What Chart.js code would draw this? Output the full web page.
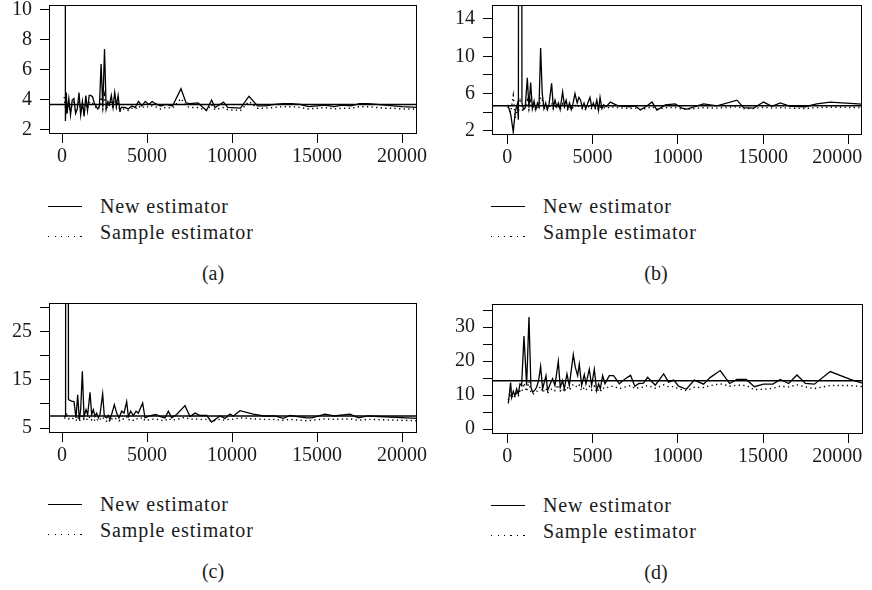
<!DOCTYPE html>
<html>
<head>
<meta charset="utf-8">
<title>Estimator comparison</title>
<script src="https://cdn.jsdelivr.net/npm/chart.js@4.4.1/dist/chart.umd.min.js"></script>
<style>
  html, body { margin: 0; padding: 0; background: #fff; }
  body {
    width: 872px; height: 590px; position: relative; overflow: hidden;
    font-family: 'Liberation Serif', serif; color: #1a1a1a;
  }
  .panel { position: absolute; height: 295px; }
  .panel canvas { position: absolute; left: 0; top: 0; }
  .legend-row {
    position: absolute; left: 48px; height: 24px; line-height: 24px;
    font-size: 20px; letter-spacing: 0.9px; white-space: nowrap;
  }
  .swatch { position: absolute; left: 0; width: 34px; height: 1px; }
  .swatch.solid { top: 12px; background: #000; }
  .swatch.dotted {
    top: 16px;
    background: repeating-linear-gradient(to right, #000 0 1.3px, transparent 1.3px 6.5px);
  }
  .legend-row .text { position: absolute; left: 52px; top: 0; }
  .caption { position: absolute; left: 0; width: 426px; top: 262px; text-align: center; font-size: 20px; }
</style>
</head>
<body>

<div class="panel" style="left:0;top:0;width:436px">
  <canvas id="chart-a" width="436" height="170"></canvas>
  <div class="legend" id="legend-a"></div>
  <div class="caption">(a)</div>
</div>
<div class="panel" style="left:443px;top:0;width:429px">
  <canvas id="chart-b" width="429" height="170"></canvas>
  <div class="legend" id="legend-b"></div>
  <div class="caption">(b)</div>
</div>
<div class="panel" style="left:0;top:298px;width:436px">
  <canvas id="chart-c" width="436" height="170"></canvas>
  <div class="legend" id="legend-c"></div>
  <div class="caption">(c)</div>
</div>
<div class="panel" style="left:443px;top:299px;width:429px">
  <canvas id="chart-d" width="429" height="170"></canvas>
  <div class="legend" id="legend-d"></div>
  <div class="caption">(d)</div>
</div>

<script>
// series names and shared x ticks
const seriesLabels = ['New estimator', 'Sample estimator'];
const xTicks = [0, 5000, 10000, 15000, 20000];

// panel (a)
const xA = [130, 200, 250, 300, 400, 500, 600, 700, 800, 900, 1000, 1100, 1200, 1300, 1400, 1500, 1600, 1700, 1800, 1900,
  2000, 2100, 2200, 2300, 2400, 2500, 2600, 2700, 2800, 2900, 3000, 3100, 3200, 3300, 3400, 3500, 3700, 3900, 4100, 4300,
  4500, 4700, 4900, 5100, 5300, 5500, 5800, 6100, 6500, 7000, 7300, 7500, 8000, 8500, 8800, 9000, 9500, 9750, 10500, 11000,
  11500, 12000, 12500, 13000, 13500, 14000, 14500, 15000, 15500, 16000, 16500, 17000, 17500, 18000, 18500, 19000, 19500, 20000, 21000];
const newA = [150, 2.6, 4.5, 3.1, 4.1, 3.0, 4.0, 4.1, 3.1, 3.4, 4.5, 3.0, 3.9, 2.9, 4.3, 3.3, 4.3, 4.3, 4.2, 3.8,
  3.6, 3.4, 3.6, 6.4, 3.5, 7.4, 3.4, 3.9, 3.7, 4.3, 3.5, 4.5, 3.6, 4.3, 3.3, 3.5, 3.5, 3.4, 3.6, 3.5,
  3.9, 3.6, 3.9, 3.7, 3.9, 3.75, 3.6, 3.7, 3.6, 4.75, 3.8, 3.75, 3.8, 3.3, 4.0, 3.5, 3.85, 3.5, 3.45, 4.25,
  3.6, 3.6, 3.7, 3.75, 3.75, 3.7, 3.55, 3.6, 3.65, 3.55, 3.65, 3.6, 3.75, 3.75, 3.7, 3.65, 3.6, 3.55, 3.5];
const sampleA = [4.2, 3.4, 3.9, 3.3, 3.8, 3.2, 3.7, 3.9, 3.3, 3.5, 4.0, 3.2, 3.6, 3.1, 3.9, 3.4, 3.8, 3.9, 3.8, 3.6,
  3.5, 3.4, 3.5, 4.2, 3.4, 4.3, 3.3, 3.7, 3.6, 4.0, 3.4, 4.3, 3.5, 3.9, 3.2, 3.4, 3.4, 3.3, 3.45, 3.4,
  3.6, 3.45, 3.6, 3.5, 3.6, 3.55, 3.4, 3.5, 3.45, 4.1, 3.6, 3.5, 3.5, 3.3, 3.7, 3.35, 3.5, 3.35, 3.3, 3.9,
  3.45, 3.45, 3.5, 3.55, 3.55, 3.5, 3.4, 3.45, 3.5, 3.4, 3.45, 3.45, 3.55, 3.55, 3.5, 3.45, 3.45, 3.4, 3.4];
const trueA = 3.7;
const yTicksA = [2, 4, 6, 8, 10];
const yLabelsA = [2, 4, 6, 8, 10];

// panel (b)
const xB = [30, 200, 350, 470, 590, 650, 750, 860, 950, 1050, 1175, 1270, 1370, 1470, 1570, 1670, 1770, 1860, 1955, 2050,
  2150, 2250, 2350, 2450, 2600, 2700, 2800, 2900, 3000, 3100, 3245, 3350, 3450, 3550, 3650, 3750, 3850, 3970, 4100, 4200,
  4300, 4400, 4500, 4600, 4700, 4850, 4950, 5050, 5150, 5250, 5350, 5440, 5550, 5650, 5800, 6040, 6500, 6820, 7200, 7500,
  7800, 8200, 8490, 8780, 9270, 9850, 10245, 10540, 11000, 11510, 12300, 13470, 13860, 14450, 15030, 15520, 16010, 16600, 17480, 18150,
  18940, 21000];
const newB = [4.8, 3.8, 1.9, 4.1, 4.9, 3.2, 200, 5.0, 4.3, 4.5, 7.7, 4.5, 7.2, 4.4, 5.2, 4.3, 5.0, 4.6, 10.9, 6.0,
  4.4, 5.0, 4.3, 4.9, 7.1, 4.5, 5.3, 4.6, 5.0, 4.3, 6.2, 4.7, 5.3, 4.4, 5.0, 4.3, 4.9, 6.0, 5.0, 5.6,
  5.3, 4.5, 5.0, 4.4, 4.9, 5.6, 4.6, 5.0, 4.5, 5.3, 4.2, 5.6, 4.4, 4.8, 4.6, 5.1, 4.7, 4.65, 4.6, 4.7,
  4.25, 4.7, 5.1, 4.25, 4.8, 4.9, 4.45, 4.35, 4.6, 4.9, 4.7, 5.3, 4.5, 4.45, 5.1, 4.65, 5.0, 4.65, 4.6, 4.9,
  5.1, 4.85];
const sampleB = [4.6, 4.0, 5.8, 3.4, 4.6, 4.0, 5.2, 4.3, 4.1, 4.6, 5.3, 4.3, 5.2, 4.4, 4.7, 4.2, 4.6, 4.4, 5.6, 5.4,
  4.4, 4.6, 4.3, 4.5, 5.0, 4.4, 4.7, 4.4, 4.6, 4.3, 4.9, 4.5, 4.6, 4.3, 4.6, 4.3, 4.5, 4.8, 4.5, 4.7,
  4.6, 4.4, 4.5, 4.3, 4.5, 4.7, 4.4, 4.5, 4.4, 4.6, 4.3, 4.6, 4.4, 4.5, 4.4, 4.6, 4.5, 4.45, 4.4, 4.45,
  4.3, 4.45, 4.6, 4.3, 4.5, 4.5, 4.35, 4.3, 4.4, 4.5, 4.45, 4.6, 4.4, 4.4, 4.55, 4.45, 4.5, 4.45, 4.4, 4.5,
  4.55, 4.5];
const trueB = 4.7;
const yTicksB = [2, 4, 6, 8, 10, 12, 14];
const yLabelsB = [2, 6, 10, 14];

// panel (c)
const xC = [137, 210, 275, 380, 569, 706, 824, 922, 1020, 1098, 1196, 1294, 1412, 1510, 1647, 1745, 1843, 1941, 2039, 2137, 2235,
  2392, 2490, 2627, 2725, 2824, 2941, 3078, 3216, 3353, 3510, 3647, 3804, 3902, 4039, 4196, 4353, 4490, 4745, 4882, 5078,
  5275, 5529, 5765, 6059, 6255, 6451, 6745, 7235, 7529, 7824, 8118, 8510, 8800, 9290, 9590, 9880, 10080, 10470, 11250, 11840,
  12500, 13020, 13410, 14390, 14700, 15470, 16000, 16940, 17430, 18000, 21000];
const newC = [7.4, 7.4, 400, 10.9, 10.6, 10.5, 7.1, 11.9, 6.7, 8.8, 16.8, 7.4, 8.8, 7.8, 12.4, 7.8, 8.8, 7.4, 8.1, 7.1, 7.8,
  12.1, 7.4, 7.1, 7.6, 6.7, 8.1, 9.85, 8.1, 7.1, 8.5, 8.1, 10.5, 7.4, 8.5, 7.6, 8.5, 8.1, 10.2, 7.1, 7.4,
  7.6, 7.8, 7.4, 7.1, 8.5, 7.1, 7.8, 9.65, 7.4, 8.1, 7.6, 7.6, 6.25, 7.5, 7.0, 7.9, 7.5, 8.6, 7.9, 7.5,
  7.5, 7.0, 7.6, 7.1, 7.1, 7.9, 7.5, 7.9, 7.1, 7.5, 7.0];
const sampleC = [7.0, 7.2, 7.8, 6.9, 7.2, 6.8, 6.5, 7.3, 6.4, 7.0, 7.6, 6.8, 7.1, 6.6, 7.4, 6.7, 7.0, 6.5, 6.9, 6.4, 6.8,
  7.3, 6.6, 6.4, 6.8, 6.3, 6.9, 7.2, 6.8, 6.5, 7.0, 6.8, 7.3, 6.6, 6.9, 6.6, 7.0, 6.8, 7.2, 6.5, 6.7,
  6.8, 6.9, 6.6, 6.5, 7.0, 6.6, 6.8, 7.2, 6.8, 6.9, 6.8, 6.8, 6.4, 6.8, 6.6, 6.9, 6.8, 7.1, 6.9, 6.8,
  6.8, 6.6, 6.8, 6.5, 6.6, 6.9, 6.8, 6.9, 6.6, 6.8, 6.5];
const trueC = 7.5;
const yTicksC = [5, 10, 15, 20, 25, 30];
const yLabelsC = [5, 15, 25];

// panel (d)
const xD = [60, 195, 254, 352, 450, 547, 645, 743, 841, 978, 1134, 1271, 1388, 1486, 1623, 1720, 1838, 1955, 2072, 2268,
  2366, 2522, 2659, 2796, 2991, 3108, 3245, 3343, 3499, 3636, 3871, 3988, 4125, 4223, 4360, 4516, 4614, 4809, 4946, 5103,
  5239, 5357, 5455, 5592, 5728, 5982, 6236, 6569, 6921, 7230, 7480, 7720, 7990, 8230, 8680, 9170, 9460, 9760, 10050, 10500,
  10970, 11510, 11910, 12490, 13040, 13470, 14020, 14490, 15030, 15580, 16010, 16500, 16990, 17480, 18010, 18940, 20120, 21000];
const newD = [7.55, 13.7, 9.3, 11.1, 9.8, 11.8, 10.3, 13.3, 12.8, 27.4, 12.8, 33.0, 12.3, 10.8, 11.5, 12.3, 14.3, 18.4, 11.8, 15.7,
  11.3, 13.3, 14.8, 12.8, 19.9, 12.3, 14.3, 11.8, 16.2, 12.8, 21.9, 18.2, 15.7, 19.1, 12.8, 16.0, 13.3, 17.6, 12.8, 17.6,
  11.3, 13.3, 11.8, 15.7, 13.3, 15.7, 15.7, 13.3, 14.8, 15.8, 12.6, 13.4, 13.5, 15.2, 12.9, 16.2, 13.8, 14.4, 12.6, 11.7,
  14.4, 13.2, 15.2, 17.2, 13.4, 14.6, 14.6, 12.45, 13.2, 13.2, 14.6, 13.4, 15.9, 13.4, 13.2, 16.9, 14.6, 13.2];
const sampleD = [8.5, 10.5, 9.0, 10.2, 9.4, 10.5, 9.6, 11.2, 10.8, 13.5, 11.0, 14.0, 10.8, 10.2, 10.5, 11.0, 11.8, 12.5, 10.8, 12.0,
  10.6, 11.5, 12.0, 11.3, 13.0, 11.2, 11.9, 10.9, 12.4, 11.4, 13.2, 12.8, 12.2, 12.9, 11.3, 12.2, 11.5, 12.6, 11.4, 12.6,
  10.8, 11.6, 11.0, 12.2, 11.8, 12.5, 12.6, 11.9, 12.4, 12.8, 11.9, 12.2, 12.3, 12.8, 12.0, 13.0, 12.4, 12.5, 11.8, 11.3,
  12.3, 12.2, 12.8, 13.3, 12.6, 12.9, 12.8, 11.6, 11.7, 12.0, 12.6, 12.4, 13.0, 12.4, 11.9, 12.8, 12.8, 12.4];
const trueD = 14.2;
const yTicksD = [0, 5, 10, 15, 20, 25, 30, 35];
const yLabelsD = [0, 10, 20, 30];

const TEXT_COLOR = '#1a1a1a';
const TICK_FONT = { family: "'Liberation Serif', serif", size: 20 };

// frame around the plotting region, like base R's box()
const boxPlugin = {
    id: 'box',
    afterDraw(chart) {
        const { ctx, chartArea: a } = chart;
        ctx.save();
        ctx.strokeStyle = '#000';
        ctx.lineWidth = 1;
        ctx.strokeRect(Math.round(a.left) + 0.5, Math.round(a.top) + 0.5,
            Math.round(a.right - a.left) - 1, Math.round(a.bottom - a.top) - 1);
        ctx.restore();
    }
};

// the last x label in the right column sits a bit left of its tick
const nudgeLastLabel = {
    id: 'nudgeLastLabel',
    beforeDraw(chart, args, opts) {
        if (!opts.dx) return;
        const items = chart.scales.x.getLabelItems();
        const last = items[items.length - 1];
        if (last && !last.nudged) {
            last.options.translation[0] += opts.dx;
            last.nudged = true;
        }
    }
};

function toPoints(xs, ys) {
    return xs.map((x, i) => ({ x: x, y: ys[i] }));
}

function makePanel(p) {
    const canvas = document.getElementById(p.canvasId);
    const axisGrid = { drawOnChartArea: false, drawTicks: true, tickLength: 9, color: '#000', lineWidth: 1 };

    const chart = new Chart(canvas, {
        type: 'line',
        data: {
            datasets: [
                {
                    label: seriesLabels[0],
                    data: toPoints(p.x, p.newVals),
                    borderColor: '#000',
                    borderWidth: 1.3,
                    pointRadius: 0,
                    tension: 0
                },
                {
                    label: seriesLabels[1],
                    data: toPoints(p.x, p.sampleVals),
                    borderColor: '#000',
                    borderWidth: 1.4,
                    borderDash: [1.3, 3.3],
                    pointRadius: 0,
                    tension: 0
                },
                {
                    label: 'True value',
                    data: [{ x: p.xMin, y: p.trueVal }, { x: p.xMax, y: p.trueVal }],
                    borderColor: '#000',
                    borderWidth: 1.5,
                    pointRadius: 0
                }
            ]
        },
        options: {
            responsive: false,
            animation: false,
            events: [],
            layout: {
                padding: { left: 0, top: p.box.top, right: canvas.width - p.box.right, bottom: 0 }
            },
            plugins: {
                legend: { display: false },
                tooltip: { enabled: false },
                nudgeLastLabel: { dx: p.lastLabelDx || 0 }
            },
            scales: {
                x: {
                    type: 'linear',
                    min: p.xMin,
                    max: p.xMax,
                    bounds: 'data',
                    afterBuildTicks: s => { s.ticks = xTicks.map(v => ({ value: v })); },
                    afterFit: s => {
                        s.height = canvas.height - p.box.bottom;
                        s.paddingLeft = 0;
                        s.paddingRight = 0;
                    },
                    grid: axisGrid,
                    border: { display: false },
                    ticks: {
                        autoSkip: false,
                        maxRotation: 0,
                        padding: 2,
                        color: TEXT_COLOR,
                        font: TICK_FONT,
                        callback: v => String(v)
                    }
                },
                y: {
                    type: 'linear',
                    min: p.yMin,
                    max: p.yMax,
                    bounds: 'data',
                    afterBuildTicks: s => { s.ticks = p.yTicks.map(v => ({ value: v })); },
                    afterFit: s => {
                        s.width = p.box.left;
                        s.paddingTop = 0;
                        s.paddingBottom = 0;
                    },
                    grid: axisGrid,
                    border: { display: false },
                    ticks: {
                        autoSkip: false,
                        padding: 8,
                        color: TEXT_COLOR,
                        font: TICK_FONT,
                        callback: v => (p.yLabels.includes(v) ? String(v) : '')
                    }
                }
            }
        },
        plugins: [boxPlugin, nudgeLastLabel]
    });

    buildLegend(chart, document.getElementById(p.legendId));
    return chart;
}

// html legend below each plot, one row per estimator
function buildLegend(chart, el) {
    const rowTops = [194, 220];
    chart.data.datasets.slice(0, 2).forEach((ds, i) => {
        const row = document.createElement('div');
        row.className = 'legend-row';
        row.style.top = rowTops[i] + 'px';

        const swatch = document.createElement('span');
        swatch.className = ds.borderDash ? 'swatch dotted' : 'swatch solid';
        row.appendChild(swatch);

        const text = document.createElement('span');
        text.className = 'text';
        text.textContent = ds.label;
        row.appendChild(text);

        el.appendChild(row);
    });
}

const charts = [
    makePanel({
        canvasId: 'chart-a', legendId: 'legend-a',
        x: xA, newVals: newA, sampleVals: sampleA, trueVal: trueA,
        xMin: -765, xMax: 20882, yMin: 1.73, yMax: 10.33,
        yTicks: yTicksA, yLabels: yLabelsA,
        box: { left: 49, top: 5, right: 417, bottom: 134 }
    }),
    makePanel({
        canvasId: 'chart-b', legendId: 'legend-b',
        x: xB, newVals: newB, sampleVals: sampleB, trueVal: trueB,
        xMin: -897, xMax: 20804, yMin: 1.57, yMax: 15.5,
        yTicks: yTicksB, yLabels: yLabelsB,
        box: { left: 49, top: 5, right: 419, bottom: 135 },
        lastLabelDx: -11
    }),
    makePanel({
        canvasId: 'chart-c', legendId: 'legend-c',
        x: xC, newVals: newC, sampleVals: sampleC, trueVal: trueC,
        xMin: -765, xMax: 20882, yMin: 3.96, yMax: 31.0,
        yTicks: yTicksC, yLabels: yLabelsC,
        box: { left: 49, top: 5, right: 417, bottom: 135 }
    }),
    makePanel({
        canvasId: 'chart-d', legendId: 'legend-d',
        x: xD, newVals: newD, sampleVals: sampleD, trueVal: trueD,
        xMin: -897, xMax: 20862, yMin: -1.47, yMax: 36.8,
        yTicks: yTicksD, yLabels: yLabelsD,
        box: { left: 49, top: 5, right: 420, bottom: 135 },
        lastLabelDx: -11
    })
];
</script>
</body>
</html>
